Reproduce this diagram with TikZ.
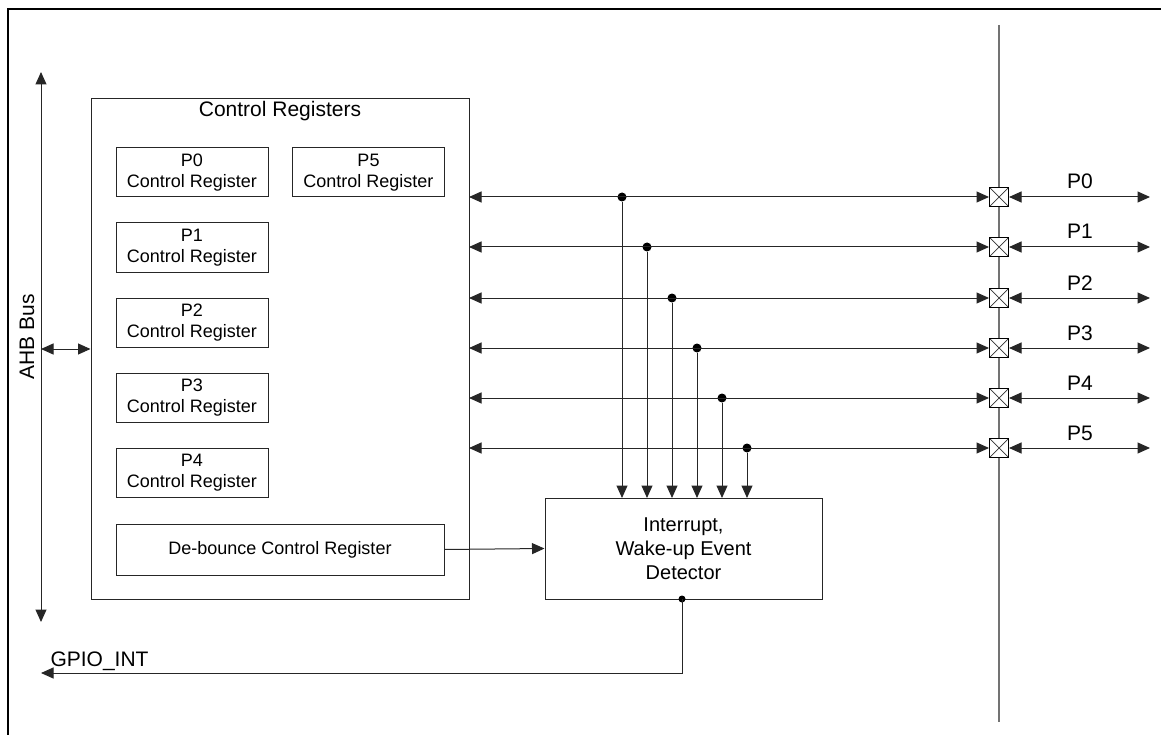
\documentclass[tikz,border=0pt]{standalone}
\usepackage{fontspec}
\setmainfont{Liberation Sans}
\usetikzlibrary{arrows.meta}
\begin{document}
\begin{tikzpicture}[x=1pt,y=-1pt,
  tip/.tip={Triangle[length=12.5pt,width=11pt]},
  ln/.style={draw=black!85,line width=1pt},
  box/.style={draw=black!85,line width=1pt,inner sep=0pt},
  regtext/.style={font=\fontsize{18}{20.5}\selectfont,align=center},
  bigtext/.style={font=\fontsize{21}{24}\selectfont,align=center},
  dot/.style={circle,fill=black,inner sep=0pt,minimum size=9pt},
  pad/.style={draw=black,line width=1pt,minimum size=19pt,inner sep=0pt,fill=white,
    path picture={\draw[black!80,line width=0.7pt] (path picture bounding box.north west)--(path picture bounding box.south east) (path picture bounding box.north east)--(path picture bounding box.south west);}}
]
\useasboundingbox (0,0) rectangle (1161,735);
% frame
\draw[line width=2pt] (8,735) -- (8,9.5) -- (1161,9.5);
% vertical pin line
\coordinate (vt) at (999,25);
\coordinate (vb) at (999,722);
\draw[black!55,line width=1.5pt] (vt) -- (vb);
% AHB bus
\coordinate (ahbt) at (41,72);
\coordinate (ahbb) at (41,622);
\draw[ln,{tip}-{tip}] (ahbt) -- (ahbb);
\node[bigtext,rotate=90] (ahb) at (27,337) {AHB Bus};
% control registers box
\node[box,minimum width=378pt,minimum height=500pt] (cr) at (280,349) {};
\node[bigtext,anchor=north] (crt) at (280,98) {Control Registers};
\coordinate (ahbm) at (41,349);
\draw[ln,{tip}-{tip}] (ahbm) -- (cr.west);
% register boxes
\tikzset{reg/.style={box,regtext,minimum width=152pt,minimum height=49pt}}
\node[reg] (r0) at (192,172.5) {P0\\Control Register};
\node[reg] (r5) at (368.5,172.5) {P5\\Control Register};
\node[reg] (r1) at (192,247.5) {P1\\Control Register};
\node[reg] (r2) at (192,322.5) {P2\\Control Register};
\node[reg] (r3) at (192,397.5) {P3\\Control Register};
\node[reg] (r4) at (192,472.5) {P4\\Control Register};
\node[box,regtext,minimum width=328pt,minimum height=51pt] (db) at (280,549.5) {De-bounce Control Register};
% interrupt box
\node[box,bigtext,minimum width=277pt,minimum height=101pt,font=\fontsize{20}{24}\selectfont] (ie) at (683.5,548.5) {Interrupt,\\Wake-up Event\\Detector};
\draw[ln,-{tip}] (db.east) -- (ie.west);
% pin lines
\foreach \i/\y/\dx in {0/197/622,1/247/647,2/298/672,3/348/697,4/398/722,5/448/747}{
  \node[pad] (p\i) at (999,\y) {};
  \coordinate (l\i) at (469,\y);
  \coordinate (o\i) at (1150,\y);
  \node[dot] (d\i) at (\dx,\y) {};
  \coordinate (a\i) at (\dx,498);
  \draw[ln,{tip}-{tip}] (l\i) -- (p\i.west);
  \draw[ln,{tip}-{tip}] (p\i.east) -- (o\i);
  \draw[ln,-{tip}] (d\i) -- (a\i);
  \node[bigtext,anchor=base] (t\i) at (1080,{\y-8}) {P\i};
}
% GPIO_INT
\node[dot,minimum size=7pt] (gd) at (682,599) {};
\coordinate (gc) at (682,673);
\coordinate (ge) at (41,673);
\draw[ln,-{tip}] (gd.center) -- (gc) -- (ge);
\node[bigtext,anchor=base west] (gl) at (47,666) {GPIO\_INT};
\end{tikzpicture}
\end{document}
